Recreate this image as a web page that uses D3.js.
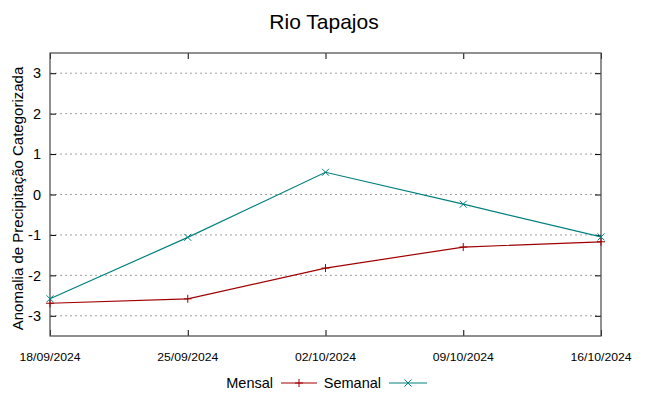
<!DOCTYPE html>
<html lang="pt">
<head>
<meta charset="utf-8">
<title>Rio Tapajos</title>
<script src="https://cdn.jsdelivr.net/npm/d3@7"></script>
<style>
  body { margin: 0; background: #fff; }
  svg { font-family: "Liberation Sans", Arial, sans-serif; }
  .grid line { stroke: #a0a0a0; stroke-dasharray: 2,3; }
</style>
</head>
<body>
<svg width="649" height="396"></svg>
<script>
var dates = ["18/09/2024", "25/09/2024", "02/10/2024", "09/10/2024", "16/10/2024"];
var mensal = [-2.69, -2.58, -1.82, -1.30, -1.17];
var semanal = [-2.58, -1.06, 0.55, -0.24, -1.05];
var yTicks = [-3, -2, -1, 0, 1, 2, 3];

var svg = d3.select("svg"),
    margin = {top: 53, right: 48, bottom: 60, left: 50},
    width = +svg.attr("width") - margin.left - margin.right,
    height = +svg.attr("height") - margin.top - margin.bottom;

var parse = d3.timeParse("%d/%m/%Y");
var x = d3.scaleTime()
    .domain([parse(dates[0]), parse(dates[dates.length - 1])])
    .range([0, width]);
var y = d3.scaleLinear().domain([-3.5, 3.5]).range([height, 0]);

var g = svg.append("g")
    .attr("transform", "translate(" + margin.left + "," + margin.top + ")");

// grid
g.append("g").attr("class", "grid")
  .selectAll("line").data(yTicks).enter().append("line")
    .attr("x1", 0).attr("x2", width)
    .attr("y1", function(d) { return y(d); })
    .attr("y2", function(d) { return y(d); });

// ticks on all four sides
var tickVals = dates.map(parse);
function plain(a) { a.select(".domain").remove(); a.selectAll("line").attr("stroke", "#000"); }
g.append("g").attr("transform", "translate(0," + height + ")")
  .call(d3.axisTop(x).tickValues(tickVals).tickSize(6).tickFormat("")).call(plain);
g.append("g")
  .call(d3.axisBottom(x).tickValues(tickVals).tickSize(6).tickFormat("")).call(plain);
g.append("g")
  .call(d3.axisRight(y).tickValues(yTicks).tickSize(6).tickFormat("")).call(plain);
g.append("g").attr("transform", "translate(" + width + ",0)")
  .call(d3.axisLeft(y).tickValues(yTicks).tickSize(6).tickFormat("")).call(plain);

// tick labels
g.selectAll(".ylab").data(yTicks).enter().append("text")
    .attr("x", -9).attr("y", function(d) { return y(d); })
    .attr("dy", "0.36em").attr("text-anchor", "end")
    .style("font-size", "14.5px")
    .text(function(d) { return d; });
g.selectAll(".xlab").data(dates).enter().append("text")
    .attr("x", function(d) { return x(parse(d)); })
    .attr("y", height + 25)
    .attr("text-anchor", "middle")
    .style("font-size", "11.5px")
    .attr("textLength", 61).attr("lengthAdjust", "spacingAndGlyphs")
    .text(function(d) { return d; });

// frame
g.append("rect").attr("width", width).attr("height", height)
    .attr("fill", "none").attr("stroke", "#555").attr("stroke-width", 1.3);

var line = d3.line()
    .x(function(d, i) { return x(parse(dates[i])); })
    .y(function(d) { return y(d); });

function plus(sel, cx, cy, c) {
  sel.append("path").attr("d", "M" + (cx - 4) + "," + cy + "h8M" + cx + "," + (cy - 4) + "v8")
    .attr("stroke", c).attr("fill", "none");
}
function cross(sel, cx, cy, c) {
  sel.append("path").attr("d", "M" + (cx - 3.5) + "," + (cy - 3.5) + "l7,7M" + (cx - 3.5) + "," + (cy + 3.5) + "l7,-7")
    .attr("stroke", c).attr("fill", "none");
}

var red = "#a00000", teal = "#00807f";
g.append("path").datum(mensal).attr("d", line)
    .attr("fill", "none").attr("stroke", red).attr("stroke-width", 1.2);
g.append("path").datum(semanal).attr("d", line)
    .attr("fill", "none").attr("stroke", teal).attr("stroke-width", 1.2);
mensal.forEach(function(d, i) { plus(g, x(parse(dates[i])), y(d), red); });
semanal.forEach(function(d, i) { cross(g, x(parse(dates[i])), y(d), teal); });

// title
svg.append("text").attr("x", 324).attr("y", 28.5).attr("text-anchor", "middle")
    .style("font-size", "21px").text("Rio Tapajos");

// y label
svg.append("text")
    .attr("transform", "translate(23,198.5) rotate(-90)")
    .attr("text-anchor", "middle").style("font-size", "15px")
    .text("Anomalia de Precipitação Categorizada");

// legend
var leg = svg.append("g");
leg.append("text").attr("x", 273).attr("y", 388).attr("text-anchor", "end")
    .style("font-size", "14.5px").text("Mensal");
leg.append("line").attr("x1", 281).attr("x2", 317).attr("y1", 383).attr("y2", 383)
    .attr("stroke", red).attr("stroke-width", 1.2);
plus(leg, 299, 383, red);
leg.append("text").attr("x", 381).attr("y", 388).attr("text-anchor", "end")
    .style("font-size", "14.5px").text("Semanal");
leg.append("line").attr("x1", 389).attr("x2", 427).attr("y1", 383).attr("y2", 383)
    .attr("stroke", teal).attr("stroke-width", 1.2);
cross(leg, 408, 383, teal);
</script>
</body>
</html>
